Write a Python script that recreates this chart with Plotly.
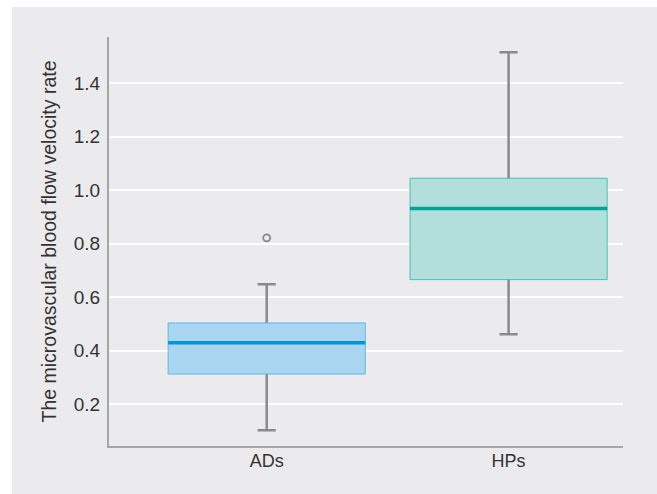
import plotly.graph_objects as go

categories = ["ADs", "HPs"]
q1_vals = [0.313, 0.666]
median_vals = [0.430, 0.932]
q3_vals = [0.504, 1.045]
lower_whisker = [0.103, 0.462]
upper_whisker = [0.649, 1.516]
outlier_cat = ["ADs"]
outlier_vals = [0.822]

y_ticks = [0.2, 0.4, 0.6, 0.8, 1.0, 1.2, 1.4]
y_ticktext = ["0.2", "0.4", "0.6", "0.8", "1.0", "1.2", "1.4"]

fill_colors = ["#a9d5f0", "#b2dfdb"]
edge_colors = ["#5cb8ea", "#45c3b5"]
median_colors = ["#0096d8", "#00a596"]
whisker_color = "#8a8a8a"
bg = "#ebebed"

fig = go.Figure()
BOXW = 0.815
CAPW = 0.075

for i, cat in enumerate(categories):
    # whiskers and caps: gray box collapsed onto the median, hidden behind the coloured box
    fig.add_trace(go.Box(
        x=[cat], q1=[median_vals[i]], median=[median_vals[i]], q3=[median_vals[i]],
        lowerfence=[lower_whisker[i]], upperfence=[upper_whisker[i]],
        width=CAPW, whiskerwidth=1, fillcolor="rgba(0,0,0,0)",
        line=dict(color=whisker_color, width=2.5), boxpoints=False,
        showlegend=False, hoverinfo="skip"))
    fig.add_trace(go.Box(
        x=[cat], q1=[q1_vals[i]], median=[median_vals[i]], q3=[q3_vals[i]],
        lowerfence=[q1_vals[i]], upperfence=[q3_vals[i]],
        width=BOXW, whiskerwidth=0, fillcolor=fill_colors[i],
        line=dict(color=edge_colors[i], width=1), boxpoints=False,
        showlegend=False))
    fig.add_trace(go.Box(
        x=[cat], q1=[median_vals[i]], median=[median_vals[i]], q3=[median_vals[i]],
        lowerfence=[median_vals[i]], upperfence=[median_vals[i]],
        width=BOXW, whiskerwidth=0, fillcolor="rgba(0,0,0,0)",
        line=dict(color=median_colors[i], width=3.5), boxpoints=False,
        showlegend=False, hoverinfo="skip"))

fig.add_trace(go.Scatter(
    x=outlier_cat, y=outlier_vals, mode="markers",
    marker=dict(symbol="circle-open", size=7, color=whisker_color, line=dict(width=1.8)),
    showlegend=False, hoverinfo="skip"))

L, R, T, B = 109, 34, 37, 48
W, H = 657, 494
pw, ph = W - L - R, H - T - B

# white strips at the left and top of the figure
fig.add_shape(type="rect", xref="paper", yref="paper", layer="below",
              x0=-L / pw, x1=(12 - L) / pw, y0=-B / ph, y1=(H - B) / ph,
              fillcolor="white", line=dict(width=0))
fig.add_shape(type="rect", xref="paper", yref="paper", layer="below",
              x0=-L / pw, x1=(W - L) / pw, y0=(H - B - 7) / ph, y1=(H - B) / ph,
              fillcolor="white", line=dict(width=0))

font = "Liberation Sans, Arial, sans-serif"
fig.update_layout(
    width=W, height=H,
    margin=dict(l=L, r=R, t=T, b=B),
    paper_bgcolor=bg, plot_bgcolor=bg,
    boxmode="overlay",
    font=dict(family=font, size=18, color="#333333"),
    xaxis=dict(range=[-0.652, 1.473], showgrid=False, showline=True,
               linecolor="#a6a6a6", linewidth=2, ticks="outside", ticklen=0,
               tickcolor="rgba(0,0,0,0)", zeroline=False, fixedrange=True,
               ticklabelstandoff=-3, tickfont=dict(size=18)),
    yaxis=dict(range=[0.044, 1.573], tickvals=y_ticks, ticktext=y_ticktext,
               showgrid=True, gridcolor="white", gridwidth=2,
               showline=True, linecolor="#a6a6a6", linewidth=2,
               ticks="outside", ticklen=3, tickcolor="rgba(0,0,0,0)",
               zeroline=False, tickfont=dict(size=19), fixedrange=True,
               title=dict(text="The microvascular blood flow velocity rate",
                          standoff=12, font=dict(size=19.5))),
)

fig.write_html("out.html", config={"displayModeBar": False},
               post_script="document.body.style.margin='0';document.body.style.overflow='hidden';")
